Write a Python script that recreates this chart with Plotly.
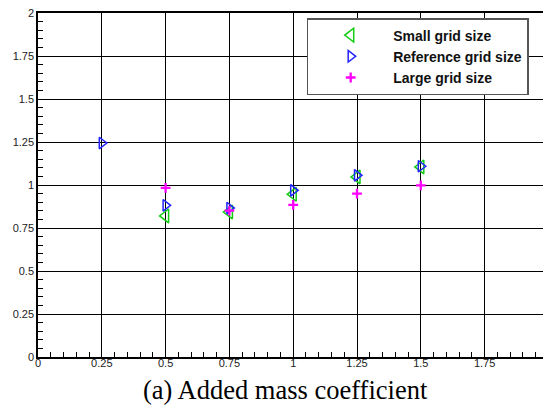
import plotly.graph_objects as go

# Data
x_small = [0.5, 0.75, 1.0, 1.25, 1.5]
y_small = [0.820, 0.843, 0.946, 1.047, 1.105]

x_ref = [0.25, 0.5, 0.75, 1.0, 1.25, 1.5]
y_ref = [1.244, 0.882, 0.866, 0.969, 1.056, 1.109]

x_large = [0.5, 0.75, 1.0, 1.25, 1.5]
y_large = [0.983, 0.851, 0.884, 0.950, 0.998]

tick_vals = [0, 0.25, 0.5, 0.75, 1, 1.25, 1.5, 1.75, 2]
tick_text = ["0", "0.25", "0.5", "0.75", "1", "1.25", "1.5", "1.75", "2"]

W, H = 543, 405
ML, MR, MT, MB = 38, 0, 13, 48

fig = go.Figure()
fig.add_trace(go.Scatter(
    x=x_small, y=y_small, mode="markers", name="Small grid size",
    marker=dict(symbol="triangle-left-open", size=12, color="#11cc11",
                line=dict(width=1.5, color="#11cc11"))))
fig.add_trace(go.Scatter(
    x=x_ref, y=y_ref, mode="markers", name="Reference grid size",
    marker=dict(symbol="triangle-right-open", size=10, color="#2222ff",
                line=dict(width=1.5, color="#2222ff"))))
fig.add_trace(go.Scatter(
    x=x_large, y=y_large, mode="markers", name="Large grid size",
    marker=dict(symbol="cross-thin-open", size=7, color="#ff00ff",
                line=dict(width=2.3, color="#ff00ff"))))

plot_w = W - ML - MR
plot_h = H - MT - MB
x_max = plot_w / 255.2

axis_font = dict(family="Liberation Sans, Arial", size=11, color="#222222")

fig.update_layout(
    width=W, height=H,
    margin=dict(l=ML, r=MR, t=MT, b=MB, pad=0),
    paper_bgcolor="white", plot_bgcolor="white",
    showlegend=True,
    legend=dict(
        x=(306.7 - ML) / plot_w, y=(H - MB - 18) / plot_h,
        xanchor="left", yanchor="top",
        bgcolor="white", bordercolor="#555555", borderwidth=1.5,
        font=dict(family="Liberation Sans, Arial", size=14, color="#111111",
                  weight="bold"),
        itemwidth=75,
    ),
    xaxis=dict(
        range=[0, x_max], tickvals=tick_vals, ticktext=tick_text,
        showgrid=True, gridcolor="black", gridwidth=1,
        showline=True, linecolor="black", linewidth=1.5, mirror=True,
        ticks="inside", ticklen=6, tickcolor="black",
        minor=dict(dtick=0.05, ticks="inside", ticklen=5, tickcolor="black",
                   showgrid=False),
        tickfont=axis_font, zeroline=False, ticklabelstandoff=-5,
    ),
    yaxis=dict(
        range=[0, 2], tickvals=tick_vals, ticktext=tick_text,
        showgrid=True, gridcolor="black", gridwidth=1,
        showline=True, linecolor="black", linewidth=1.5,
        ticks="inside", ticklen=6, tickcolor="black",
        minor=dict(dtick=0.05, ticks="inside", ticklen=5, tickcolor="black",
                   showgrid=False),
        tickfont=axis_font, zeroline=False,
    ),
    annotations=[dict(
        text="(a) Added mass coefficient", showarrow=False,
        xref="paper", yref="paper",
        x=(285.5 - ML) / plot_w, y=-(373 - (H - MB)) / plot_h,
        xanchor="center", yanchor="top",
        font=dict(family="Liberation Serif, Times New Roman", size=26.5,
                  color="black"),
    )],
)

fig.write_html("out.html")
